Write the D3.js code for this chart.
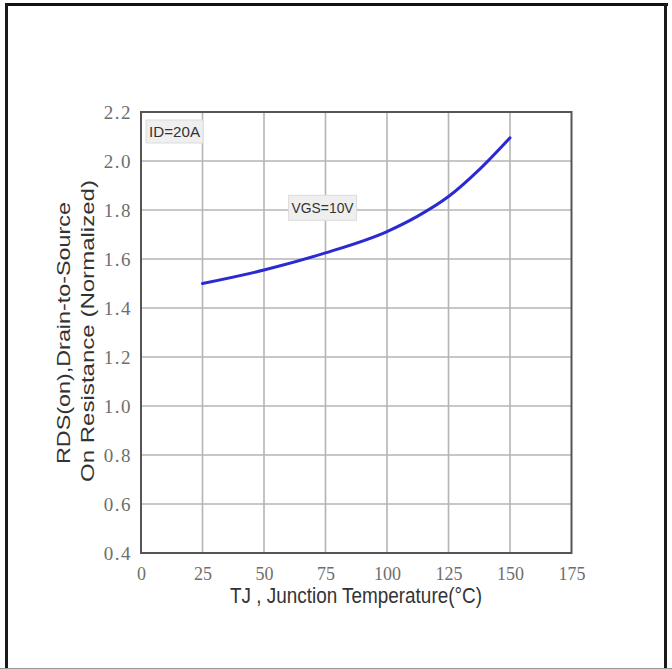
<!DOCTYPE html>
<html>
<head>
<meta charset="utf-8">
<script src="https://cdn.jsdelivr.net/npm/d3@7"></script>
<style>
  html, body { margin: 0; padding: 0; background: #fff; }
  svg { display: block; }
</style>
</head>
<body>
<svg id="chart" width="672" height="669"></svg>
<script>
// Normalized on-resistance vs junction temperature
const temps  = [25, 50, 75, 100, 112.5, 125, 137.5, 150];
const rdsOn  = [1.50, 1.555, 1.625, 1.712, 1.775, 1.855, 1.965, 2.095];
const xTicks = [0, 25, 50, 75, 100, 125, 150, 175];
const yTicks = [0.4, 0.6, 0.8, 1.0, 1.2, 1.4, 1.6, 1.8, 2.0, 2.2];
const xTitle = "TJ , Junction Temperature(\u00B0C)";
const yTitle = ["RDS(on),Drain-to-Source", "On Resistance (Normalized)"];
const notes  = [
  { text: "ID=20A",  t: 0,  v: 2.2, dx: 5, dy: 8, w: 57, h: 23 },
  { text: "VGS=10V", t: 60, v: 1.86, dx: 0, dy: 0, w: 68, h: 25 }
];

const svg = d3.select("#chart");

// outer frame
svg.append("rect").attr("x", 0).attr("y", 0).attr("width", 672).attr("height", 669).attr("fill", "#fff");
svg.append("line").attr("x1", 5).attr("x2", 668).attr("y1", 4.5).attr("y2", 4.5)
  .attr("stroke", "#111").attr("stroke-width", 3);
svg.append("line").attr("x1", 6.5).attr("x2", 6.5).attr("y1", 3).attr("y2", 669)
  .attr("stroke", "#1a1a1a").attr("stroke-width", 3);
svg.append("line").attr("x1", 665.5).attr("x2", 665.5).attr("y1", 3).attr("y2", 669)
  .attr("stroke", "#1a1a1a").attr("stroke-width", 3);
svg.append("line").attr("x1", 0).attr("x2", 672).attr("y1", 668.5).attr("y2", 668.5)
  .attr("stroke", "#999").attr("stroke-width", 1);

const plotL = 141, plotR = 571.5, plotT = 112, plotB = 553;
const x = d3.scaleLinear().domain([0, 175]).range([plotL, plotR]);
const y = d3.scaleLinear().domain([0.4, 2.2]).range([plotB, plotT]);

// grid
const grid = svg.append("g");
grid.selectAll(".vg").data(xTicks.slice(1, -1)).join("line")
  .attr("x1", d => x(d)).attr("x2", d => x(d)).attr("y1", plotT).attr("y2", plotB)
  .attr("stroke", "#b4b4b4").attr("stroke-width", 1.6);
grid.selectAll(".hg").data(yTicks.slice(1, -1)).join("line")
  .attr("x1", plotL).attr("x2", plotR).attr("y1", d => y(d)).attr("y2", d => y(d))
  .attr("stroke", "#b4b4b4").attr("stroke-width", 1.6);

// plot frame
svg.append("rect").attr("x", plotL).attr("y", plotT)
  .attr("width", plotR - plotL).attr("height", plotB - plotT)
  .attr("fill", "none").attr("stroke", "#555").attr("stroke-width", 2);

// axes with tick labels only
const xAxis = d3.axisBottom(x).tickValues(xTicks).tickSize(0).tickPadding(0).tickFormat(d3.format("d"));
const gx = svg.append("g").attr("transform", `translate(0,${plotB})`).call(xAxis);
gx.select(".domain").remove();
gx.selectAll("text")
  .attr("y", 27).attr("dy", 0)
  .attr("font-family", "'Liberation Serif', 'Times New Roman', serif")
  .attr("font-size", 18).attr("fill", "#6e6e6e");

const yAxis = d3.axisLeft(y).tickValues(yTicks).tickSize(0).tickPadding(9).tickFormat(d3.format(".1f"));
const gy = svg.append("g").attr("transform", `translate(${plotL},0)`).call(yAxis);
gy.select(".domain").remove();
gy.selectAll("text")
  .attr("dy", "0.35em")
  .attr("font-family", "'Liberation Serif', 'Times New Roman', serif")
  .attr("font-size", 19).attr("fill", "#6e6e6e")
  .attr("letter-spacing", 1.5);

// curve
const line = d3.line().x(d => x(d[0])).y(d => y(d[1])).curve(d3.curveMonotoneX);
svg.append("path").datum(temps.map((t, i) => [t, rdsOn[i]]))
  .attr("d", line).attr("fill", "none")
  .attr("stroke", "#2a2ad2").attr("stroke-width", 3).attr("stroke-linecap", "round");

// condition notes
notes.forEach(n => {
  const cx = x(n.t) + n.dx, cy = y(n.v) + n.dy;
  const g = svg.append("g").attr("transform", `translate(${cx},${cy})`);
  g.append("rect").attr("x", 0).attr("y", 0).attr("width", n.w).attr("height", n.h)
    .attr("fill", "#efefef").attr("stroke", "#dcdcdc").attr("stroke-width", 1);
  g.append("text").attr("x", n.w / 2).attr("y", n.h / 2).attr("dy", "0.36em")
    .attr("text-anchor", "middle")
    .attr("font-family", "'Liberation Sans Narrow', 'Arial Narrow', 'Liberation Sans', sans-serif")
    .attr("font-size", 15).attr("fill", "#333")
    .attr("textLength", n.w - 6).attr("lengthAdjust", "spacingAndGlyphs")
    .text(n.text);
});

// axis titles
svg.append("text").attr("x", 356).attr("y", 603).attr("text-anchor", "middle")
  .attr("font-family", "'Liberation Sans Narrow', 'Arial Narrow', 'Liberation Sans', sans-serif")
  .attr("font-size", 22).attr("fill", "#333")
  .attr("textLength", 252).attr("lengthAdjust", "spacingAndGlyphs")
  .text(xTitle);

const yt = svg.append("g").attr("transform", "translate(70,333) rotate(-90)");
yt.append("text").attr("x", 0).attr("y", 0).attr("text-anchor", "middle")
  .attr("font-family", "'Liberation Sans', Arial, sans-serif")
  .attr("font-size", 19).attr("fill", "#333")
  .attr("textLength", 262).attr("lengthAdjust", "spacingAndGlyphs")
  .text(yTitle[0]);
yt.append("text").attr("x", 2).attr("y", 24).attr("text-anchor", "middle")
  .attr("font-family", "'Liberation Sans', Arial, sans-serif")
  .attr("font-size", 19).attr("fill", "#333")
  .attr("textLength", 302).attr("lengthAdjust", "spacingAndGlyphs")
  .text(yTitle[1]);
</script>
</body>
</html>
